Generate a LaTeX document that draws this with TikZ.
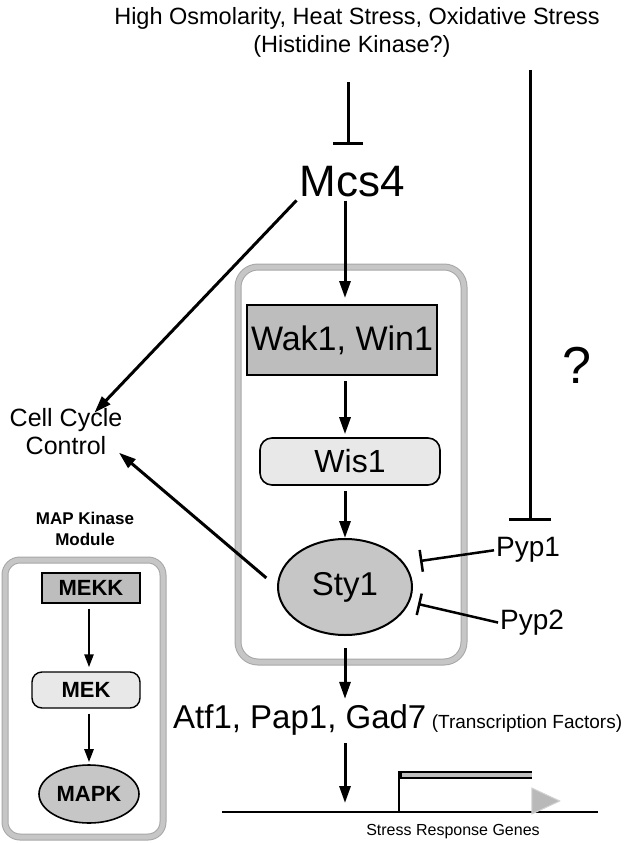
\documentclass[tikz,border=0pt]{standalone}
\usepackage{fontspec}
\setmainfont{Liberation Sans}
\usetikzlibrary{arrows.meta, positioning, shapes.geometric}

\begin{document}
\begin{tikzpicture}[x=1pt, y=-1pt,
        fs/.style={font=\fontsize{#1}{#1}\selectfont},
        fsb/.style={font=\fontsize{#1}{#1}\selectfont\bfseries},
        txt/.style={inner sep=0pt},
        band/.style={draw=gray!70, line width=1pt, double=gray!45, double distance=5pt, rounded corners=20pt},
        darkbox/.style={rectangle, draw, line width=2pt, fill=gray!52, inner sep=0pt},
        lightbox/.style={rectangle, rounded corners=12pt, draw, line width=1.6pt, fill=gray!18, inner sep=0pt},
        kinase/.style={ellipse, draw, line width=2pt, fill=gray!45, inner sep=0pt},
        arrow/.style={-{Triangle[length=17pt, width=11pt]}, line width=3pt},
        smallarrow/.style={-{Triangle[length=13pt, width=9pt]}, line width=2.5pt},
        inhibit/.style={-{Bar[width=#1]}, line width=3pt},
        inhibit/.default=30pt
    ]
        \useasboundingbox (0,0) rectangle (632,843);

        % stimulus and sensor
        \node[txt, fs=23.5] (stress) at (357,18) {High Osmolarity, Heat Stress, Oxidative Stress};
        \node[txt, fs=23.5] (hk) at (352,46) {(Histidine Kinase?)};
        \node[txt, fs=44] (mcs4) at (352,182) {Mcs4};
        \coordinate (hktop) at (348,82);
        \coordinate (hkbar) at (348,145);
        \draw[inhibit] (hktop) -- (hkbar);

        \coordinate (qtop) at (530,70);
        \coordinate (qbar) at (530,521);
        \draw[inhibit=42pt] (qtop) -- (qbar);
        \node[txt, fs=52] (qmark) at (577,365) {?};

        % the Sty1 MAP kinase cascade
        \draw[band] (238,267) rectangle (464,662);
        \node[darkbox, minimum width=190pt, minimum height=70pt, fs=34] (wak) at (342,340) {Wak1, Win1};
        \node[lightbox, minimum width=180pt, minimum height=47pt, fs=32] (wis) at (350,461.5) {Wis1};
        \node[kinase, minimum width=134pt, minimum height=96pt, fs=33] (sty) at (345,587) {Sty1};

        \draw[arrow, shorten <=3pt, shorten >=6pt] (mcs4.south -| sty) -- (wak.north -| sty);
        \draw[arrow, shorten <=5pt, shorten >=3pt] (wak.south -| sty) -- (wis.north -| sty);
        \draw[arrow, shorten <=5pt] (wis.south -| sty) -- (sty.north);

        % phosphatases
        \node[txt, fs=28, anchor=west] (pyp1) at (496,550) {Pyp1};
        \node[txt, fs=28, anchor=west] (pyp2) at (500,623) {Pyp2};
        \coordinate (pyp1end) at (420,561);
        \coordinate (pyp2end) at (418,604);
        \draw[inhibit=22pt, line width=2.5pt, shorten <=2pt] (pyp1.west) -- (pyp1end);
        \draw[inhibit=22pt, line width=2.5pt, shorten <=2pt] (pyp2.west) -- (pyp2end);

        % cell cycle branch
        \node[txt, align=center, font=\fontsize{25}{28}\selectfont] (ccc) at (66,432) {Cell Cycle\\Control};
        \draw[arrow, shorten <=4pt] (mcs4.south west) -- ([xshift=-28pt, yshift=-4pt]ccc.north east);
        \draw[arrow, shorten <=14pt, shorten >=2pt] (sty.west) -- ([xshift=-5pt, yshift=4pt]ccc.south east);

        % transcription factors and target genes
        \node[txt, fs=33, anchor=base west] (atf) at (173,728) {Atf1, Pap1, Gad7};
        \node[txt, fs=19, anchor=base west, xshift=5pt] (tf) at (atf.base east) {(Transcription Factors)};
        \draw[arrow, shorten <=12pt, shorten >=5pt] (sty.south) -- (sty.south |- atf.north);

        \coordinate (dnaL) at (222,812);
        \coordinate (dnaR) at (598,812);
        \coordinate (tss) at (399,812);
        \coordinate (tsstop) at (399,775);
        \draw[arrow, shorten <=8pt, shorten >=9pt] (atf.south -| sty) -- (dnaL -| sty);
        \draw[line width=2.8pt] (dnaL) -- (dnaR);
        \draw[line width=2.5pt] (tss) -- ([yshift=-4pt]tsstop);
        \draw[line width=8pt] ([xshift=-1.25pt]tsstop) -- ++(134,0) coordinate (headbase);
        \draw[line width=4pt, gray!50] ([xshift=3pt]tsstop) -- (headbase);
        \filldraw[fill=gray!55, draw=gray!35, line width=1pt] ([yshift=-13pt]headbase) -- ++(28,13) -- ++(-28,13) -- cycle;
        \node[txt, fs=16] (genes) at (453,832) {Stress Response Genes};

        % legend module
        \node[txt, align=center, font=\fontsize{17}{21}\selectfont\bfseries] (mkm) at (85,529) {MAP Kinase\\Module};
        \draw[band, rounded corners=15pt] (5,560) rectangle (163,837);
        \node[darkbox, line width=1.2pt, minimum width=98pt, minimum height=30pt, fsb=22] (mekk) at (91,588) {MEKK};
        \node[lightbox, rounded corners=10pt, line width=1.4pt, minimum width=108pt, minimum height=36pt, fsb=22] (mek) at (86,690) {MEK};
        \node[kinase, line width=1.6pt, minimum width=100pt, minimum height=58pt, fsb=22] (mapk) at (89,794) {MAPK};
        \draw[smallarrow, shorten <=5pt, shorten >=4pt] (mekk.south -| mapk) -- (mek.north -| mapk);
        \draw[smallarrow, shorten <=5pt, shorten >=2pt] (mek.south -| mapk) -- (mapk.north);
    \end{tikzpicture}
\end{document}
